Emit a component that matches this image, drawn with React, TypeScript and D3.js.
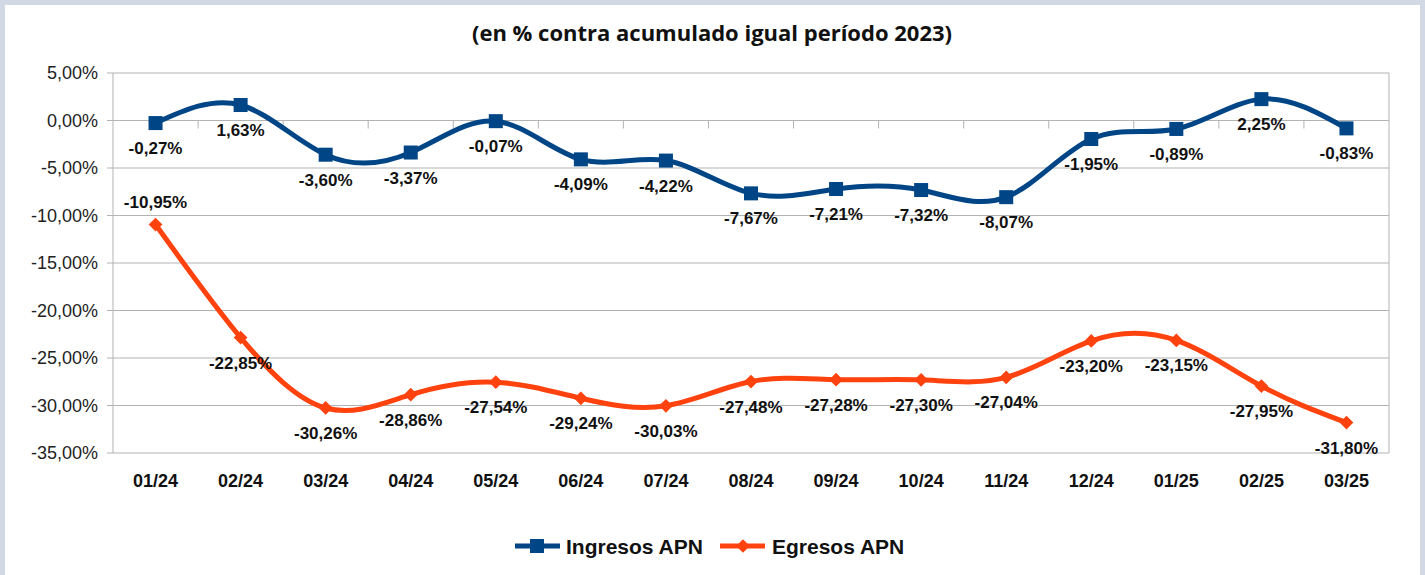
import React, { useRef, useEffect } from 'react';
import * as d3 from 'd3';

const months = ['01/24', '02/24', '03/24', '04/24', '05/24', '06/24', '07/24', '08/24', '09/24', '10/24', '11/24', '12/24', '01/25', '02/25', '03/25'];
const ingresos = [-0.27, 1.63, -3.6, -3.37, -0.07, -4.09, -4.22, -7.67, -7.21, -7.32, -8.07, -1.95, -0.89, 2.25, -0.83];
const egresos = [-10.95, -22.85, -30.26, -28.86, -27.54, -29.24, -30.03, -27.48, -27.28, -27.3, -27.04, -23.2, -23.15, -27.95, -31.8];
const yTicks = [5, 0, -5, -10, -15, -20, -25, -30, -35];

const BLUE = '#004586';
const ORANGE = '#ff420e';
const W = 1425, H = 575;

const fmt = (v: number) => v.toFixed(2).replace('.', ',') + '%';

const App = () => {
  const svgRef = useRef<SVGSVGElement>(null);

  useEffect(() => {
    const svg = d3.select(svgRef.current);
    svg.selectAll('*').remove();

    const left = 113, right = 1389, top = 73, bottom = 453;

    // background frame
    svg.append('rect').attr('width', W).attr('height', H).attr('fill', '#d3d8e5');
    svg.append('rect').attr('x', 5).attr('y', 5).attr('width', 1415).attr('height', H - 5).attr('fill', '#fff');

    svg.append('text')
      .attr('x', 712).attr('y', 41)
      .attr('text-anchor', 'middle')
      .attr('font-family', 'Open Sans, sans-serif')
      .attr('font-weight', 'bold')
      .attr('font-size', 22)
      .attr('fill', '#111')
      .text('(en % contra acumulado igual período 2023)');

    const x = d3.scaleBand().domain(months).range([left, right]);
    const y = d3.scaleLinear().domain([-35, 5]).range([bottom, top]);
    const cx = (i: number) => (x(months[i]) as number) + x.bandwidth() / 2;

    const g = svg.append('g').attr('font-family', 'Liberation Sans, Arial, sans-serif');

    // grid
    g.selectAll('.grid').data(yTicks).enter().append('line')
      .attr('x1', left - 6).attr('x2', right)
      .attr('y1', d => y(d)).attr('y2', d => y(d))
      .attr('stroke', '#b3b3b3').attr('stroke-width', 1);
    g.append('line').attr('x1', left).attr('x2', left).attr('y1', top).attr('y2', bottom).attr('stroke', '#b3b3b3');
    g.append('line').attr('x1', right).attr('x2', right).attr('y1', top).attr('y2', bottom).attr('stroke', '#b3b3b3');

    // category ticks on zero line
    g.selectAll('.xtick').data(months.slice(1)).enter().append('line')
      .attr('x1', d => x(d) as number).attr('x2', d => x(d) as number)
      .attr('y1', y(0)).attr('y2', y(0) + 8)
      .attr('stroke', '#b3b3b3');

    g.selectAll('.ylab').data(yTicks).enter().append('text')
      .attr('x', 98).attr('y', d => y(d) + 6)
      .attr('text-anchor', 'end')
      .attr('font-size', 18)
      .attr('fill', '#222')
      .text(d => d.toFixed(2).replace('.', ',') + '%');

    g.selectAll('.xlab').data(months).enter().append('text')
      .attr('x', (d, i) => cx(i)).attr('y', 487)
      .attr('text-anchor', 'middle')
      .attr('font-size', 18)
      .attr('font-weight', 'bold')
      .attr('fill', '#111')
      .text(d => d);

    const line = d3.line<number>()
      .x((d, i) => cx(i))
      .y(d => y(d))
      .curve(d3.curveNatural);

    g.append('path').datum(ingresos).attr('d', line).attr('fill', 'none')
      .attr('stroke', BLUE).attr('stroke-width', 5);
    g.append('path').datum(egresos).attr('d', line).attr('fill', 'none')
      .attr('stroke', ORANGE).attr('stroke-width', 5);

    g.selectAll('.sq').data(ingresos).enter().append('rect')
      .attr('x', (d, i) => cx(i) - 7).attr('y', d => y(d) - 7)
      .attr('width', 14).attr('height', 14).attr('fill', BLUE);

    const diamond = d3.symbol().type(d3.symbolDiamond2).size(120);
    g.selectAll('.dm').data(egresos).enter().append('path')
      .attr('d', diamond)
      .attr('transform', (d, i) => `translate(${cx(i)},${y(d)})`)
      .attr('fill', ORANGE);

    g.selectAll('.lbi').data(ingresos).enter().append('text')
      .attr('x', (d, i) => cx(i)).attr('y', d => y(d) + 31)
      .attr('text-anchor', 'middle').attr('font-size', 17).attr('font-weight', 'bold').attr('fill', '#111')
      .text(d => fmt(d));

    g.selectAll('.lbe').data(egresos).enter().append('text')
      .attr('x', (d, i) => cx(i)).attr('y', (d, i) => i === 0 ? y(d) - 17 : y(d) + 31)
      .attr('text-anchor', 'middle').attr('font-size', 17).attr('font-weight', 'bold').attr('fill', '#111')
      .text(d => fmt(d));

    // legend
    const lg = g.append('g').attr('transform', 'translate(0,546)');
    lg.append('line').attr('x1', 515).attr('x2', 560).attr('stroke', BLUE).attr('stroke-width', 5);
    lg.append('rect').attr('x', 530).attr('y', -7).attr('width', 14).attr('height', 14).attr('fill', BLUE);
    lg.append('text').attr('x', 566).attr('y', 8).attr('font-size', 21).attr('font-weight', 'bold').attr('fill', '#111').text('Ingresos APN');
    lg.append('line').attr('x1', 720).attr('x2', 765).attr('stroke', ORANGE).attr('stroke-width', 5);
    lg.append('path').attr('d', diamond).attr('transform', 'translate(743,0)').attr('fill', ORANGE);
    lg.append('text').attr('x', 772).attr('y', 8).attr('font-size', 21).attr('font-weight', 'bold').attr('fill', '#111').text('Egresos APN');
  }, []);

  return <svg ref={svgRef} width={W} height={H} style={{ position: 'absolute', left: 0, top: 0 }}></svg>;
};

export default App;
